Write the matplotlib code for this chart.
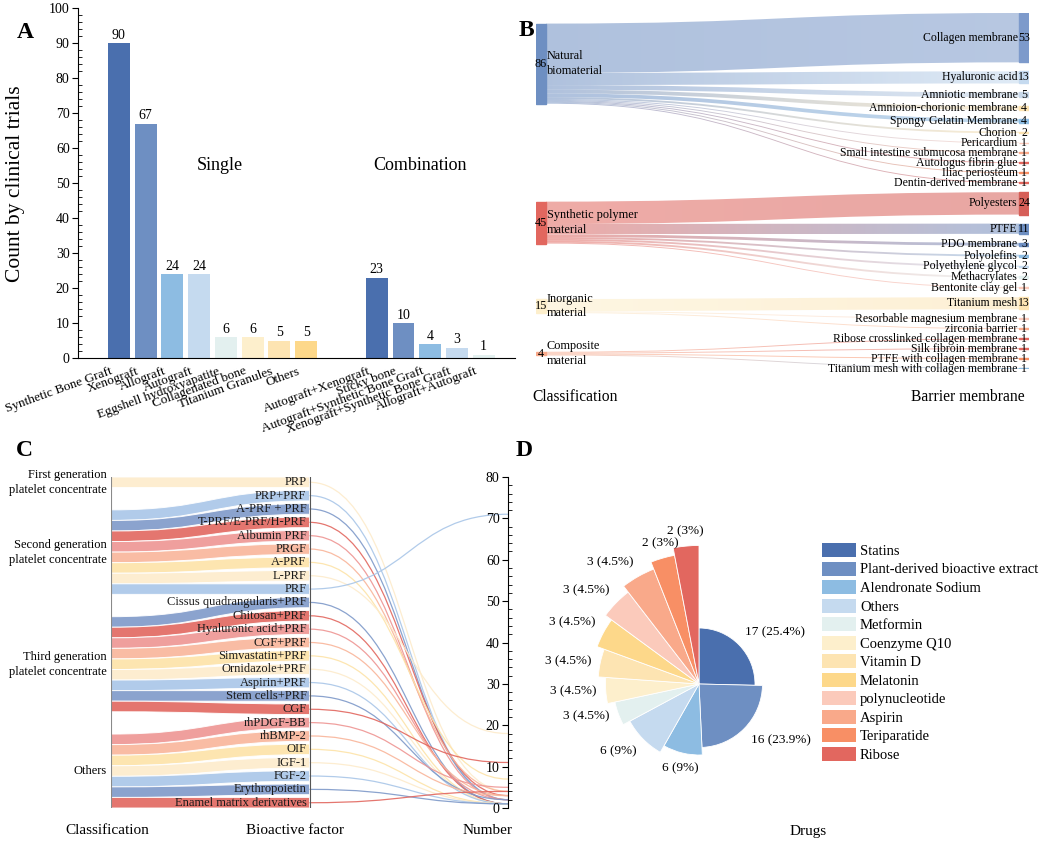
import numpy as np
import matplotlib
matplotlib.use('Agg')
import matplotlib.pyplot as plt
from matplotlib.path import Path
from matplotlib.patches import PathPatch, Rectangle, Patch
from matplotlib.colors import LinearSegmentedColormap
import matplotlib.transforms as mtransforms

plt.rcParams['font.family'] = ['Liberation Serif', 'DejaVu Serif']

# ---------------- data ----------------
# A: bone grafts
single_names = ['Synthetic Bone Graft', 'Xenograft', 'Allograft', 'Autograft',
                'Eggshell hydroxyapatite', 'Collagenated bone', 'Titanium Granules', 'Others']
single_counts = [90, 67, 24, 24, 6, 6, 5, 5]
combo_names = ['Autograft+Xenograft', 'Sticky bone', 'Autograft+Synthetic Bone Graft',
               'Xenograft+Synthetic Bone Graft', 'Allograft+Autograft']
combo_counts = [23, 10, 4, 3, 1]

# B: barrier membranes
b_classes = ['Natural\nbiomaterial', 'Synthetic polymer\nmaterial', 'Inorganic\nmaterial', 'Composite\nmaterial']
membrane_names = ['Collagen membrane', 'Hyaluronic acid', 'Amniotic membrane', 'Amnioion-chorionic membrane',
                  'Spongy Gelatin Membrane', 'Chorion', 'Pericardium', 'Small intestine submucosa membrane',
                  'Autologus fibrin glue', 'Iliac periosteum', 'Dentin-derived membrane',
                  'Polyesters', 'PTFE', 'PDO membrane', 'Polyolefins', 'Polyethylene glycol', 'Methacrylates',
                  'Bentonite clay gel',
                  'Titanium mesh', 'Resorbable magnesium membrane', 'zirconia barrier',
                  'Ribose crosslinked collagen membrane', 'Silk fibroin membrane', 'PTFE with collagen membrane',
                  'Titanium mesh with collagen membrane']
membrane_counts = [53, 13, 5, 4, 4, 2, 1, 1, 1, 1, 1,
                   24, 11, 3, 2, 2, 2, 1,
                   13, 1, 1,
                   1, 1, 1, 1]
membrane_class = [0] * 11 + [1] * 7 + [2] * 3 + [3] * 4

# C: bioactive factors
c_classes = ['First generation\nplatelet concentrate', 'Second generation\nplatelet concentrate',
             'Third generation\nplatelet concentrate', 'Others']
factor_names = ['PRP', 'PRP+PRF', 'A-PRF + PRF', 'T-PRF/E-PRF/H-PRF', 'Albumin PRF', 'PRGF', 'A-PRF', 'L-PRF',
                'PRF', 'Cissus quadrangularis+PRF', 'Chitosan+PRF', 'Hyaluronic acid+PRF', 'CGF+PRF',
                'Simvastatin+PRF', 'Ornidazole+PRF', 'Aspirin+PRF', 'Stem cells+PRF', 'CGF',
                'rhPDGF-BB', 'rhBMP-2', 'OIF', 'IGF-1', 'FGF-2', 'Erythropoietin', 'Enamel matrix derivatives']
factor_class = [0] + [1] * 8 + [2] * 9 + [3] * 7
factor_counts = [4, 2, 2, 3, 2, 4, 7, 18, 71, 1, 1, 2, 3, 1, 1, 1, 2, 11, 5, 3, 1, 1, 1, 1, 4]

# D: drugs
drug_names = ['Statins', 'Plant-derived bioactive extract', 'Alendronate Sodium', 'Others', 'Metformin',
              'Coenzyme Q10', 'Vitamin D', 'Melatonin', 'polynucleotide', 'Aspirin', 'Teriparatide', 'Ribose']
drug_counts = [17, 16, 6, 6, 3, 3, 3, 3, 3, 3, 2, 2]

# ---------------- styles ----------------
pal = ['#4a6fae', '#6e8fc2', '#8dbce2', '#c5daef', '#e3f0ef', '#fdefcc',
       '#fde4b2', '#fdd88a', '#fbcabb', '#f9a98a', '#f88f65', '#e2675f']
b_class_colors = ['#6e8fc2', '#e2675f', '#fdefcc', '#f9a98a']
membrane_colors = ['#7d9acb', '#c5daef', '#c9d9ea', '#fde4b2', '#8dbce2', '#fde4b2', '#fbcabb', '#f9a98a',
                   '#e2675f', '#f88f65', '#e2675f',
                   '#d65f58', '#6e8fc2', '#6e8fc2', '#8dbce2', '#c5daef', '#e3f0ef', '#fbcabb',
                   '#fde4b2', '#fbcabb', '#f9a98a',
                   '#e2675f', '#e2675f', '#f88f65', '#8dbce2']
c_cycle = ['#a9c6e8', '#7e99c9', '#e2675f', '#ee9593', '#f9b59a', '#fde3a8', '#fdebcb']

W, H = 1040, 842
fig = plt.figure(figsize=(W / 100, H / 100), dpi=100)


def rect(x0, y0, x1, y1):
    return [x0 / W, 1 - y1 / H, (x1 - x0) / W, (y1 - y0) / H]


def ftext(x, y, s, **kw):
    fig.text(x / W, 1 - y / H, s, **kw)


def ribbon(x0, x1, a0, a1, b0, b1):
    # band between top edge a0->a1 and bottom edge b0->b1
    xm = (x0 + x1) / 2
    verts = [(x0, a0), (xm, a0), (xm, a1), (x1, a1), (x1, b1), (xm, b1), (xm, b0), (x0, b0), (x0, a0)]
    codes = [Path.MOVETO, Path.CURVE4, Path.CURVE4, Path.CURVE4, Path.LINETO,
             Path.CURVE4, Path.CURVE4, Path.CURVE4, Path.CLOSEPOLY]
    return Path(verts, codes)


# ---------------- A ----------------
axA = fig.add_axes(rect(78, 8.3, 515, 358.3))
xs_single = np.arange(len(single_counts))
xs_combo = 9.64 + np.arange(len(combo_counts))
axA.bar(xs_single, single_counts, width=0.82, color=pal[:len(single_counts)])
axA.bar(xs_combo, combo_counts, width=0.82, color=pal[:len(combo_counts)])
for x, v in zip(list(xs_single) + list(xs_combo), single_counts + combo_counts):
    axA.text(x, v + 0.4, str(v), ha='center', va='bottom', fontsize=10)
axA.set_xlim(-1.53, 14.81)
axA.set_ylim(0, 100)
axA.set_yticks(np.arange(0, 101, 10))
axA.set_yticks(np.arange(0, 101, 2), minor=True)
axA.tick_params(axis='y', which='major', direction='out', length=4, labelsize=10, pad=2)
axA.tick_params(axis='y', which='minor', direction='in', length=3)
axA.set_xticks(list(xs_single) + list(xs_combo))
axA.set_xticklabels(single_names + combo_names, rotation=20, ha='right', rotation_mode='anchor', fontsize=9.5)
axA.tick_params(axis='x', length=0, pad=5)
shift = mtransforms.ScaledTranslation(-0.09, 0, fig.dpi_scale_trans)
for lbl in axA.get_xticklabels():
    lbl.set_transform(lbl.get_transform() + shift)
for s in ['top', 'right']:
    axA.spines[s].set_visible(False)
axA.set_ylabel('Count by clinical trials', fontsize=15.5)
axA.yaxis.set_label_coords(-53 / 437, 0.5)
axA.text(3.77, 55, 'Single', ha='center', va='center', fontsize=13)
axA.text(11.27, 55, 'Combination', ha='center', va='center', fontsize=13)

# ---------------- B ----------------
axB = fig.add_axes(rect(536, 13, 1029, 369))
axB.axis('off')
gap = 9.68
total = sum(membrane_counts) + gap * (len(membrane_counts) - 1)
nw = 10 / 493
t_top = []
pos = 0
for v in membrane_counts:
    t_top.append(pos)
    pos += v + gap
t_top = np.array(t_top)
t_val = np.array(membrane_counts, dtype=float)
t_ctr = t_top + t_val / 2
m_class = np.array(membrane_class)
s_top = []
s_val = []
for c in range(len(b_classes)):
    sel = m_class == c
    v = t_val[sel].sum()
    ctr = (t_ctr[sel] * t_val[sel]).sum() / v
    s_top.append(ctr - v / 2)
    s_val.append(v)

grad = np.linspace(0, 1, 256).reshape(1, -1)
offs = list(s_top)
for i, (v, c) in enumerate(zip(membrane_counts, membrane_class)):
    a0 = offs[c]
    b0 = a0 + v
    offs[c] = b0
    a1 = t_top[i]
    b1 = a1 + v
    p = ribbon(nw, 1 - nw, a0, a1, b0, b1)
    patch = PathPatch(p, facecolor='none', edgecolor='none')
    axB.add_patch(patch)
    cmap = LinearSegmentedColormap.from_list('lk', [b_class_colors[c], membrane_colors[i]])
    im = axB.imshow(grad, extent=[nw, 1 - nw, max(b0, b1), min(a0, a1)], aspect='auto',
                    cmap=cmap, alpha=0.55, interpolation='bilinear')
    im.set_clip_path(patch)

for c in range(len(b_classes)):
    axB.add_patch(Rectangle((0, s_top[c]), nw, s_val[c], color=b_class_colors[c]))
    yc = s_top[c] + s_val[c] / 2
    axB.text(nw / 2, yc, str(int(s_val[c])), ha='center', va='center', fontsize=8.8)
    axB.text(nw + 0.002, yc, b_classes[c], ha='left', va='center', fontsize=8.8, linespacing=1.3)
for i, v in enumerate(membrane_counts):
    axB.add_patch(Rectangle((1 - nw, t_top[i]), nw, v, color=membrane_colors[i]))
    axB.text(1 - nw - 0.003, t_ctr[i], membrane_names[i], ha='right', va='center', fontsize=8.5)
    axB.text(1 - nw / 2, t_ctr[i], str(v), ha='center', va='center', fontsize=8.5)
axB.set_xlim(0, 1)
axB.set_ylim(total, 0)
ftext(575, 397, 'Classification', ha='center', va='center', fontsize=11.2)
ftext(968, 397, 'Barrier membrane', ha='center', va='center', fontsize=11.2)

# ---------------- C ----------------
axC = fig.add_axes(rect(111, 477, 508, 808))
gR = 0.264
n_f = len(factor_names)
T = n_f + gR * (n_f - 1)
gL = (T - n_f) / (len(c_classes) - 1)
sc = 80 / T
f_class = np.array(factor_class)
for i in range(n_f):
    g = factor_class[i]
    posL = i + g * gL
    posR = i * (1 + gR)
    yLt, yLb = 80 - posL * sc, 80 - (posL + 1) * sc
    yRt, yRb = 80 - posR * sc, 80 - (posR + 1) * sc
    col = c_cycle[(i - 1) % len(c_cycle)]
    axC.add_patch(PathPatch(ribbon(0, 1, yLt, yRt, yLb, yRb), facecolor=col, edgecolor='white',
                            lw=0.7, alpha=0.9))
    yc = (yRt + yRb) / 2
    v = factor_counts[i]
    line = Path([(1, yc), (1.5, yc), (1.5, v), (2, v)], [Path.MOVETO, Path.CURVE4, Path.CURVE4, Path.CURVE4])
    axC.add_patch(PathPatch(line, facecolor='none', edgecolor=col, lw=0.9, alpha=0.9))
    axC.text(0.985, yc, factor_names[i], ha='right', va='center', fontsize=9, color='#1a1a1a')
for g in range(len(c_classes)):
    idx = np.where(f_class == g)[0]
    top = 80 - (idx[0] + g * gL) * sc
    bot = 80 - (idx[-1] + 1 + g * gL) * sc
    axC.text(-0.02, (top + bot) / 2, c_classes[g], ha='right', va='center', fontsize=9, linespacing=1.35)
axC.axvline(0, color='#8a8a8a', lw=0.8)
axC.axvline(1, color='#555555', lw=0.8)
axC.set_xlim(0, 2)
axC.set_ylim(0, 80)
for s in ['top', 'right', 'bottom']:
    axC.spines[s].set_visible(False)
axC.spines['left'].set_position(('axes', 1.0))
axC.set_xticks([])
axC.set_yticks(np.arange(0, 81, 10))
axC.set_yticks(np.arange(0, 81, 2), minor=True)
axC.tick_params(axis='y', which='major', direction='out', length=4, labelsize=10, pad=2)
axC.tick_params(axis='y', which='minor', direction='in', length=3)
ftext(107, 831, 'Classification', ha='center', va='center', fontsize=11)
ftext(295, 831, 'Bioactive factor', ha='center', va='center', fontsize=11)
ftext(488, 831, 'Number', ha='center', va='center', fontsize=11)

# ---------------- D ----------------
axD = fig.add_axes(rect(549, 534, 849, 834), projection='polar')
axD.set_theta_zero_location('N')
axD.set_theta_direction(-1)
cnt = np.array(drug_counts, dtype=float)
widths = cnt / cnt.sum() * 2 * np.pi
lefts = np.cumsum(widths) - widths
radii = 56 + 7.5 * np.arange(len(cnt))
axD.bar(lefts, radii, width=widths, bottom=0, align='edge', color=pal, edgecolor='white', linewidth=0.6)
for i, v in enumerate(drug_counts):
    th = lefts[i] + widths[i] / 2
    a = np.pi / 2 - th
    ca, sa = np.cos(a), np.sin(a)
    ha = 'left' if ca > 0.3 else ('right' if ca < -0.3 else 'center')
    va = 'bottom' if sa > 0.4 else ('top' if sa < -0.4 else 'center')
    pct = f"{v / cnt.sum() * 100:.1f}".rstrip('0').rstrip('.')
    axD.text(th, radii[i] + 9, f"{v} ({pct}%)", ha=ha, va=va, fontsize=9.5)
axD.set_ylim(0, 150)
axD.axis('off')
handles = [Patch(facecolor=c, label=n) for c, n in zip(pal, drug_names)]
fig.legend(handles=handles, loc='upper left', bbox_to_anchor=(822 / W, 1 - 543 / H), frameon=False,
           fontsize=10.5, handlelength=2.3, handleheight=1.1, labelspacing=0.245, handletextpad=0.3,
           borderpad=0, borderaxespad=0)
ftext(808, 832, 'Drugs', ha='center', va='center', fontsize=11)

# panel letters
for s, x, y in [('A', 25, 33), ('B', 526, 30), ('C', 24, 450), ('D', 524, 450)]:
    ftext(x, y, s, ha='center', va='center', fontsize=17, fontweight='bold')

fig.savefig('out.png', dpi=100)
